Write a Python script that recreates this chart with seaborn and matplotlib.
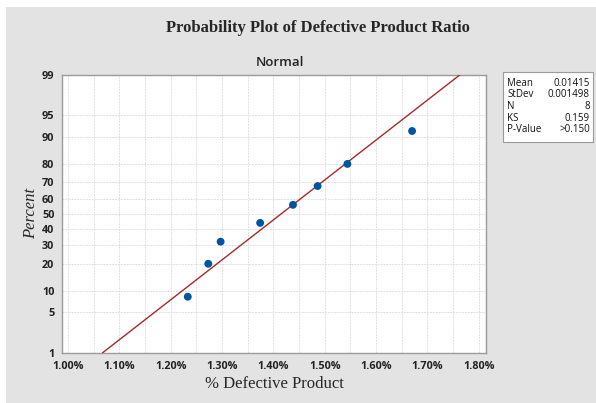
import numpy as np
import pandas as pd
import matplotlib
matplotlib.use("Agg")
import matplotlib.pyplot as plt
import seaborn as sns
from matplotlib.patches import Rectangle
from matplotlib.ticker import MultipleLocator, FuncFormatter, FixedLocator
from statistics import NormalDist

# ---- data ----
defective_pct = [1.233, 1.273, 1.297, 1.374, 1.438, 1.486, 1.544, 1.670]
percent = [8.3, 20.2, 32.1, 44.0, 56.0, 67.9, 79.8, 91.7]
fit_mean_pct = 1.415
fit_sd_pct = 0.1498
fit_percent = [1, 99]
y_ticks = [1, 5, 10, 20, 30, 40, 50, 60, 70, 80, 90, 95, 99]
x_ticks = [1.00, 1.10, 1.20, 1.30, 1.40, 1.50, 1.60, 1.70, 1.80]
stat_names = ["Mean", "StDev", "N", "KS", "P-Value"]
stat_values = ["0.01415", "0.001498", "8", "0.159", ">0.150"]

nd = NormalDist()
_ppf = np.vectorize(lambda p: nd.inv_cdf(min(max(p / 100.0, 1e-9), 1 - 1e-9)), otypes=[float])
_cdf = np.vectorize(lambda z: nd.cdf(z) * 100.0, otypes=[float])

sns.set_style("white")
plt.rcParams["font.family"] = ["Open Sans", "DejaVu Sans"]

fig = plt.figure(figsize=(5.96, 4.03), dpi=100)
fig.patch.set_facecolor("white")
fig.patches.append(Rectangle((6 / 596, 0), 1, 1 - 7 / 403, transform=fig.transFigure,
                             facecolor="#e3e3e3", edgecolor="none", zorder=-5))

ax = fig.add_axes([62 / 596, 1 - 353 / 403, (486 - 62) / 596, (353 - 74.7) / 403])
ax.set_facecolor("white")
ax.set_yscale("function", functions=(_ppf, _cdf))

df = pd.DataFrame({"x": defective_pct, "y": percent})
fit_x = [fit_mean_pct + fit_sd_pct * nd.inv_cdf(p / 100.0) for p in fit_percent]
fit_df = pd.DataFrame({"x": fit_x, "y": fit_percent})

sns.lineplot(data=fit_df, x="x", y="y", ax=ax, color="#a8272a", linewidth=1.0, zorder=3)
sns.scatterplot(data=df, x="x", y="y", ax=ax, color="#0054a6", s=32, edgecolor="none", zorder=4)

ax.set_xlim(0.988, 1.814)
ax.set_ylim(1, 99)
ax.xaxis.set_major_locator(FixedLocator(x_ticks))
ax.xaxis.set_minor_locator(MultipleLocator(0.05))
ax.xaxis.set_major_formatter(FuncFormatter(lambda v, p: f"{v:.2f}%"))
ax.yaxis.set_major_locator(FixedLocator(y_ticks))
ax.yaxis.set_minor_locator(FixedLocator([]))
ax.yaxis.set_major_formatter(FuncFormatter(lambda v, p: f"{v:g}"))

ax.grid(True, which="both", axis="x", color="#e0e0e0", linestyle=(0, (2, 1)), linewidth=0.7)
ax.grid(True, which="major", axis="y", color="#e0e0e0", linestyle=(0, (2, 1)), linewidth=0.7)
ax.set_axisbelow(True)

for s in ax.spines.values():
    s.set_color("#9a9a9a")
    s.set_linewidth(1.0)

ax.tick_params(axis="both", which="major", length=4, width=0.8, color="#9a9a9a",
               labelsize=7.8, labelcolor="#222222", pad=1.5)
ax.tick_params(axis="x", which="minor", length=0)
for lab in ax.get_xticklabels() + ax.get_yticklabels():
    lab.set_fontweight("bold")

ax.set_xlabel("% Defective Product", family=["Liberation Serif"], fontsize=12, labelpad=3)
ax.set_ylabel("Percent", family=["Liberation Serif"], fontstyle="italic", fontsize=12, labelpad=2)
ax.text(280 / 596, 1 - 63 / 403, "Normal", transform=fig.transFigure, fontsize=9.5,
        fontweight="semibold", ha="center", va="center", color="#222222")

fig.text(317.5 / 596, 1 - 28 / 403, "Probability Plot of Defective Product Ratio",
         family=["Liberation Serif"], fontweight="bold", fontsize=12,
         ha="center", va="center")

# stats box
fig.patches.append(Rectangle((503 / 596, 1 - 142 / 403), 90 / 596, 70 / 403,
                             transform=fig.transFigure, facecolor="white",
                             edgecolor="#9a9a9a", linewidth=0.8, zorder=2))
for i, (n, v) in enumerate(zip(stat_names, stat_values)):
    yy = 1 - (83 + i * 11.7) / 403
    fig.text(507 / 596, yy, n, fontsize=7, ha="left", va="center", zorder=3, color="#111111")
    fig.text(590 / 596, yy, v, fontsize=7, ha="right", va="center", zorder=3, color="#111111")

fig.savefig("out.png", dpi=100)
